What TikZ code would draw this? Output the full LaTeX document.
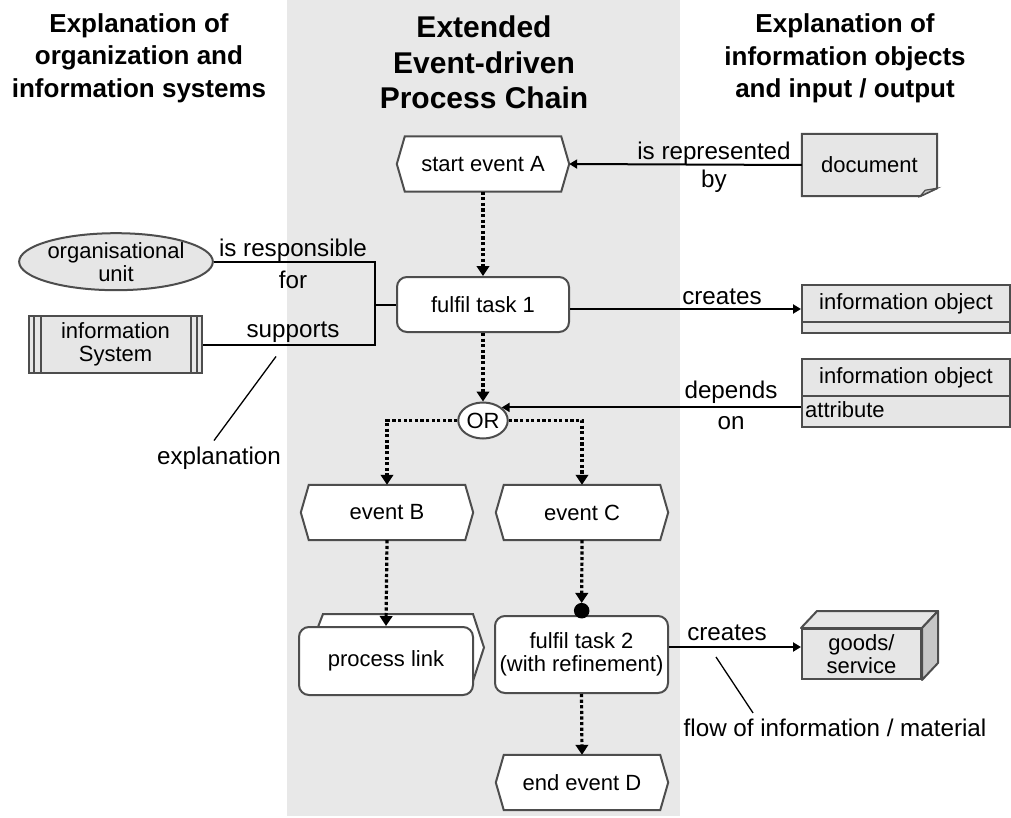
\documentclass[tikz,border=0pt]{standalone}
\usepackage{fontspec}
\setmainfont{Liberation Sans}
\usetikzlibrary{arrows.meta,shapes.geometric,calc}
\pgfdeclarelayer{band}
\pgfdeclarelayer{shapes}
\pgfsetlayers{band,shapes,main}
\definecolor{bandgray}{HTML}{E8E8E8}
\definecolor{boxgray}{HTML}{E6E6E6}
\definecolor{sidegray}{HTML}{C6C6C6}
\definecolor{edgegray}{HTML}{4D4D4D}

\begin{document}
\begin{tikzpicture}[x=1pt,y=-1pt,
  nodefont/.style={font=\fontsize{22}{23}\selectfont},
  lblfont/.style={font=\fontsize{24.2}{26}\selectfont},
  outline/.style={draw=edgegray,line width=2pt},
  headside/.style={align=center,font=\bfseries\fontsize{26}{32.5}\selectfont},
  headmid/.style={align=center,font=\bfseries\fontsize{30}{35.5}\selectfont},
  evt/.style={nodefont,minimum width=172pt,minimum height=55pt,inner sep=0pt},
  task/.style={outline,fill=white,rounded corners=10pt,nodefont,inner sep=0pt,
    minimum width=172pt,minimum height=55pt,align=center},
  graybox/.style={outline,fill=boxgray,nodefont,inner sep=0pt,align=center},
  lbl/.style={lblfont,inner sep=0pt},
  flow/.style={line width=2pt,-{Triangle[length=8pt,width=9pt]}},
  plain/.style={line width=2pt},
  pointer/.style={line width=1.3pt},
  ctrl/.style={line width=3.2pt,dash pattern=on 3.2pt off 2.4pt,
    -{Triangle[length=10pt,width=12.5pt]}}
]
\useasboundingbox (0,0) rectangle (1011,818);

% central column
\begin{pgfonlayer}{band}
  \fill[bandgray] (287,0) rectangle (680,816);
\end{pgfonlayer}

% column headings
\node[headside] (hleft) at (139,58) {Explanation of\\organization and\\information systems};
\node[headmid] (hmid) at (484,62.5) {Extended\\Event-driven\\Process Chain};
\node[headside] (hright) at (845,58.5) {Explanation of\\information objects\\and input / output};

% events (hexagons drawn on the shape layer)
\node[evt] (evA) at (483,164) {start event A};
\node[evt] (evB) at (387,512.5) {event B};
\node[evt] (evC) at (582,512.5) {event C};
\node[evt] (evD) at (582,782.5) {end event D};
\begin{pgfonlayer}{shapes}
  \foreach \n in {evA,evB,evC,evD}{
    \draw[outline,fill=white] ([xshift=8pt]\n.north west) -- ([xshift=-8pt]\n.north east)
      -- (\n.east) -- ([xshift=-8pt]\n.south east) -- ([xshift=8pt]\n.south west)
      -- (\n.west) -- cycle;
  }
\end{pgfonlayer}

% functions
\node[task] (task1) at (483,304.5) {fulfil task 1};
\node[task,minimum width=173pt,minimum height=77pt] (task2) at (581.5,654.5)
  {fulfil task 2\\(with refinement)};
\node[circle,fill=black,draw=black,line width=1pt,minimum size=14.5pt,inner sep=0pt]
  (dot) at (581.7,610.7) {};

% process link: back sheet then front card
\begin{pgfonlayer}{shapes}
  \draw[outline,fill=white] (318,627) -- (323,614) -- (473,614) -- (484,647.5)
    -- (473,681) -- cycle;
\end{pgfonlayer}
\node[task,minimum width=174pt,minimum height=68pt] (plink) at (386,661) {process link};

% connector
\node[ellipse,outline,fill=white,minimum width=49.5pt,minimum height=36pt,
  inner sep=0pt,nodefont] (or) at (483,420.5) {OR};

% organisation side
\node[ellipse,graybox,minimum width=172pt,minimum height=57pt] (org) at (116,261.7)
  {organisational\\unit};
\node[graybox,minimum width=173pt,minimum height=57pt] (is) at (115.5,344.5)
  {information\\System};
\draw[outline] ([xshift=6.3pt]is.north west) -- ([xshift=6.3pt]is.south west);
\draw[outline] ([xshift=12.5pt]is.north west) -- ([xshift=12.5pt]is.south west);
\draw[outline] ([xshift=-6.3pt]is.north east) -- ([xshift=-6.3pt]is.south east);
\draw[outline] ([xshift=-12.5pt]is.north east) -- ([xshift=-12.5pt]is.south east);

% information objects side
\node[minimum width=135pt,minimum height=62pt,inner sep=0pt,nodefont] (doc)
  at (869.5,165) {document};
\begin{pgfonlayer}{shapes}
  \draw[outline,fill=boxgray] (doc.north west) -- (doc.north east)
    -- ([yshift=8pt]doc.south east) -- ([xshift=-17pt]doc.south east)
    -- (doc.south west) -- cycle;
  \draw[draw=edgegray,line width=1.2pt,fill=sidegray] ([xshift=-17pt]doc.south east)
    -- ([xshift=-12pt,yshift=6pt]doc.south east) -- ([yshift=8pt]doc.south east) -- cycle;
\end{pgfonlayer}

\node[graybox,minimum width=208pt,minimum height=48pt] (io1) at (906,309) {};
\node[nodefont,inner sep=0pt] (io1t) at (906,303.5) {information object};
\draw[outline] (io1.west |- 0,322) -- (io1.east |- 0,322);

\node[graybox,minimum width=208pt,minimum height=68pt] (io2) at (906,393) {};
\node[nodefont,inner sep=0pt] (io2t) at (906,377.5) {information object};
\node[nodefont,inner sep=0pt,anchor=west] (attr) at (805,410) {attribute};
\draw[outline] (io2.west |- 0,396) -- (io2.east |- 0,396);

\node[graybox,minimum width=119pt,minimum height=50pt] (goods) at (861.5,654)
  {goods/\\service};
\begin{pgfonlayer}{shapes}
  \draw[outline,fill=boxgray,line join=round] (goods.north west) -- ++(16,-17)
    -- ([shift={(16,-17)}]goods.north east) -- (goods.north east) -- cycle;
  \draw[outline,fill=sidegray,line join=round] (goods.north east) -- ++(16,-17)
    -- ([shift={(16,-17)}]goods.south east) -- (goods.south east) -- cycle;
\end{pgfonlayer}

% control flow
\draw[ctrl] (evA.south) -- (task1.north);
\draw[ctrl] (task1.south) -- (or.north);
\draw[ctrl] (or.west) -| (evB.north);
\draw[ctrl] (or.east) -| (evC.north);
\draw[ctrl] (evB.south) -- (plink.north);
\draw[ctrl] (evC.south) -- (dot.north);
\draw[ctrl] (task2.south) -- (evD.north);

% organisation assignments
\coordinate (bus) at (375,304.5);
\draw[plain] (org.east) -| (bus);
\draw[plain] (is.east) -| (bus);
\draw[plain] (bus) -- (task1.west);
\node[lbl] (lresp) at (293,250.7) {is responsible};
\node[lbl] (lfor) at (293,280) {for};
\node[lbl] (lsup) at (293,332) {supports};

% information flows
\draw[flow] (doc.west) -- (evA.east);
\node[lbl] (lrep) at (714,153.3) {is represented};
\node[lbl] (lby) at (714,181.7) {by};

\draw[flow] (task1.east |- io1.west) -- (io1.west);
\node[lbl] (lcr1) at (722,296.7) {creates};

\draw[flow] (io2.west |- or.35) -- (or.35);
\node[lbl] (ldep) at (731,392.3) {depends};
\node[lbl] (lon) at (731,423.3) {on};

\coordinate (t2out) at ([yshift=7.5pt]task2.east);
\draw[flow] (t2out) -- (goods.west |- t2out);
\node[lbl] (lcr2) at (727,633) {creates};

% explanatory labels
\node[lbl] (expl) at (219,458) {explanation};
\coordinate (explTip) at (276,356.5);
\draw[pointer] ([xshift=-5pt,yshift=6pt]expl.north) -- (explTip);

\node[lbl] (lflow) at (835,728) {flow of information / material};
\coordinate (flowTip) at (716,657);
\draw[pointer] ([xshift=-82pt,yshift=6pt]lflow.north) -- (flowTip);
\end{tikzpicture}
\end{document}
